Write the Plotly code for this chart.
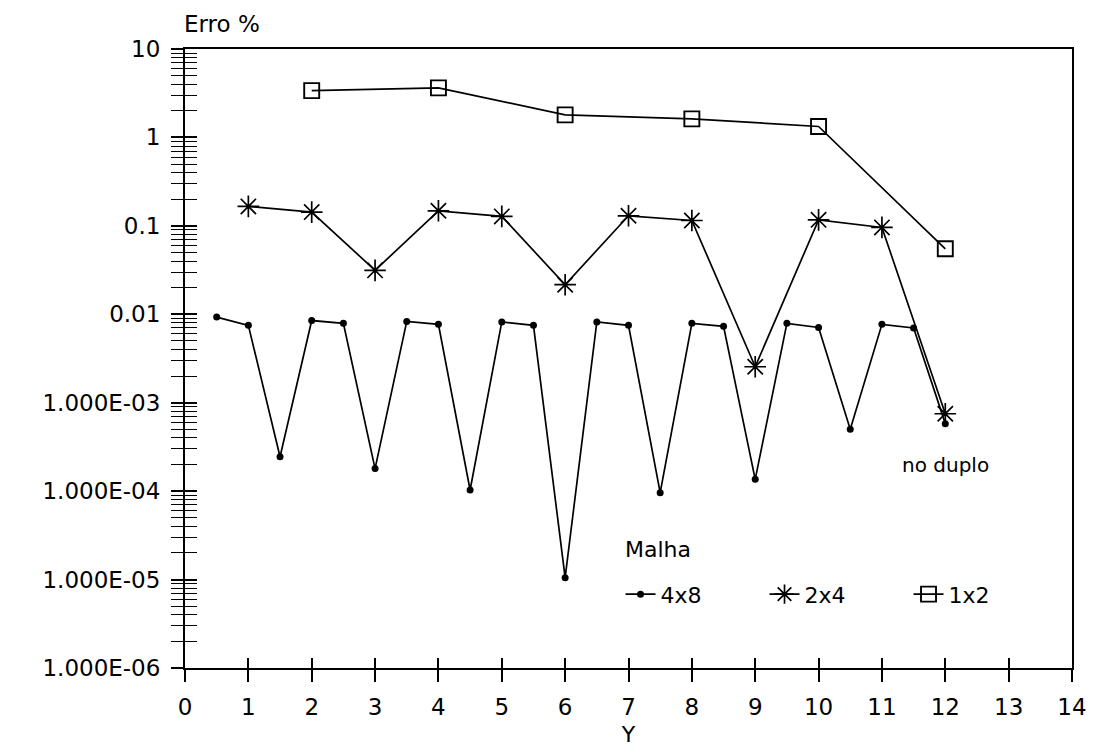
import plotly.graph_objects as go

# ---- data ----
x_4x8 = [0.5, 1, 1.5, 2, 2.5, 3, 3.5, 4, 4.5, 5, 5.5, 6, 6.5, 7, 7.5, 8, 8.5, 9, 9.5, 10, 10.5, 11, 11.5, 12]
y_4x8 = [0.0093, 0.0075, 2.45e-4, 0.0085, 0.0079, 1.8e-4, 0.0083, 0.0077, 1.03e-4, 0.0082, 0.0075, 1.05e-5,
         0.0082, 0.0075, 9.6e-5, 0.0079, 0.0073, 1.36e-4, 0.0079, 0.0071, 5.0e-4, 0.0077, 0.0070, 5.8e-4]

x_2x4 = [1, 2, 3, 4, 5, 6, 7, 8, 9, 10, 11, 12]
y_2x4 = [0.166, 0.143, 0.0314, 0.148, 0.128, 0.0216, 0.130, 0.115, 0.00255, 0.117, 0.096, 7.5e-4]

x_1x2 = [2, 4, 6, 8, 10, 12]
y_1x2 = [3.38, 3.63, 1.80, 1.62, 1.33, 0.055]

series_names = ["4x8", "2x4", "1x2"]

x_ticks = list(range(0, 15))
y_tickvals = [10, 1, 0.1, 0.01, 1e-3, 1e-4, 1e-5, 1e-6]
y_ticktext = ["10", "1", "0.1", "0.01", "1.000E-03", "1.000E-04", "1.000E-05", "1.000E-06"]

FONT = "DejaVu Sans"
LW = 1.7

fig = go.Figure()
fig.add_trace(go.Scatter(x=x_4x8, y=y_4x8, name=series_names[0], mode="lines+markers",
                         line=dict(color="black", width=LW),
                         marker=dict(symbol="circle", size=7, color="black")))
fig.add_trace(go.Scatter(x=x_2x4, y=y_2x4, name=series_names[1], mode="lines+markers",
                         line=dict(color="black", width=LW),
                         marker=dict(symbol="asterisk-open", size=18, color="black",
                                     line=dict(color="black", width=1.7))))
fig.add_trace(go.Scatter(x=x_1x2, y=y_1x2, name=series_names[2], mode="lines+markers",
                         line=dict(color="black", width=LW),
                         marker=dict(symbol="square-open", size=15, color="black",
                                     line=dict(color="black", width=1.9))))
# dummy trace so that the overlay axes (inner half of crossing ticks) are drawn
fig.add_trace(go.Scatter(x=[None], y=[None], xaxis="x2", yaxis="y2", showlegend=False,
                         hoverinfo="skip", mode="lines"))

tickfont = dict(family=FONT, size=23, color="black")

fig.update_layout(
    width=1099, height=755,
    margin=dict(l=185, r=23, t=49, b=86),
    paper_bgcolor="white", plot_bgcolor="white",
    font=dict(family=FONT, color="black"),
    showlegend=True,
    xaxis=dict(range=[0, 14], tickvals=x_ticks, ticks="outside", ticklen=12, tickwidth=1.6,
               tickcolor="black", showline=True, linecolor="black", linewidth=2, mirror=True,
               showgrid=False, zeroline=False, tickfont=tickfont, ticklabelstandoff=5,
               title=dict(text="Y", font=dict(family=FONT, size=22), standoff=8)),
    yaxis=dict(type="log", range=[-6, 1], tickvals=y_tickvals, ticktext=y_ticktext,
               ticks="outside", ticklen=12, tickwidth=1.6, tickcolor="black",
               minor=dict(ticks="outside", ticklen=12, tickwidth=1.4, tickcolor="black",
                          dtick="D1", showgrid=False),
               showline=True, linecolor="black", linewidth=2, mirror=True,
               showgrid=False, zeroline=False, tickfont=tickfont, ticklabelstandoff=6),
    xaxis2=dict(range=[0, 14], tickvals=x_ticks, overlaying="x", anchor="y2", side="bottom",
                ticks="inside", ticklen=10, tickwidth=1.6, tickcolor="black",
                showticklabels=False, showline=False, showgrid=False, zeroline=False),
    yaxis2=dict(type="log", range=[-6, 1], tickvals=y_tickvals, overlaying="y", anchor="x2",
                side="left", ticks="inside", ticklen=12, tickwidth=1.6, tickcolor="black",
                minor=dict(ticks="inside", ticklen=12, tickwidth=1.4, tickcolor="black",
                           dtick="D1", showgrid=False),
                showticklabels=False, showline=False, showgrid=False, zeroline=False),
    legend=dict(orientation="h", x=0.491, y=0.119, xanchor="left", yanchor="middle",
                bgcolor="rgba(0,0,0,0)", borderwidth=0,
                font=dict(family=FONT, size=22, color="black"),
                entrywidth=99, traceorder="normal"),
    annotations=[
        dict(text="Erro %", xref="paper", yref="paper", x=-0.003, y=1.04, xanchor="left",
             yanchor="middle", showarrow=False, font=dict(family=FONT, size=23)),
        dict(text="Malha", xref="paper", yref="paper", x=0.494, y=0.192, xanchor="left",
             yanchor="middle", showarrow=False, font=dict(family=FONT, size=22)),
        dict(text="no duplo", xref="x", yref="y", x=12, y=-3.7, xanchor="center",
             yanchor="middle", showarrow=False, font=dict(family=FONT, size=20)),
    ],
)

fig.write_html("out.html")
